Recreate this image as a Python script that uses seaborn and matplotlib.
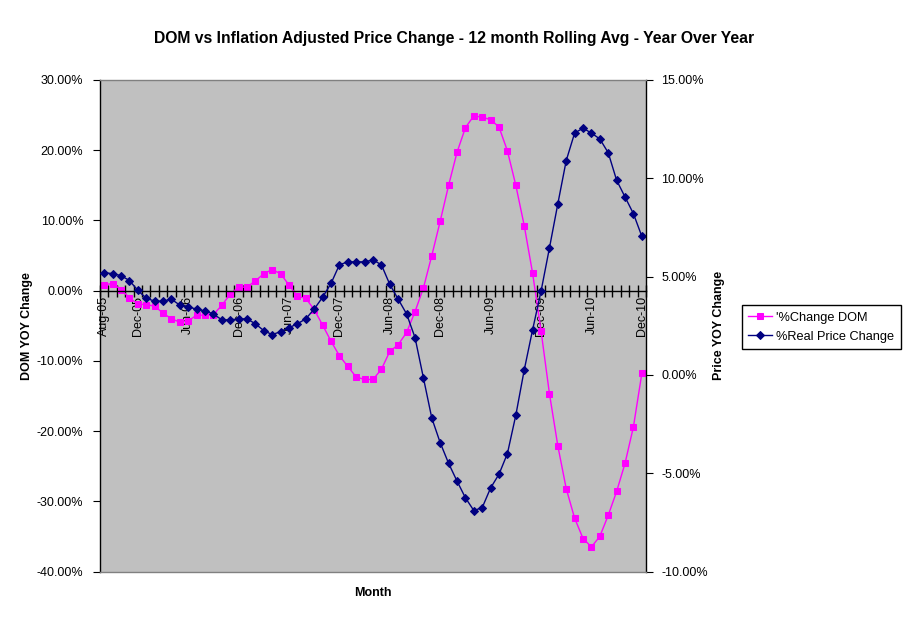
import matplotlib
matplotlib.use('Agg')
import matplotlib.pyplot as plt
import matplotlib.ticker as mticker
import seaborn as sns
import pandas as pd

# month categories, Aug-05 .. Dec-10
months = list(pd.date_range('2005-08-01', periods=65, freq='MS').strftime('%b-%y'))
label_months = ['Aug-05', 'Dec-05', 'Jun-06', 'Dec-06', 'Jun-07', 'Dec-07',
                'Jun-08', 'Dec-08', 'Jun-09', 'Dec-09', 'Jun-10', 'Dec-10']

# '%Change DOM (left axis, percent)
dom_change = [0.85, 1.0, 0.15, -1.0, -1.9, -2.0, -2.2, -3.2, -4.0, -4.5,
              -4.3, -3.5, -3.5, -3.4, -2.1, -0.5, 0.5, 0.5, 1.4, 2.4,
              3.0, 2.4, 0.8, -0.8, -1.1, -2.7, -4.9, -7.2, -9.27, -10.8,
              -12.3, -12.65, -12.65, -11.2, -8.65, -7.7, -5.95, -3.0, 0.38, 5.0,
              9.9, 15.0, 19.7, 23.2, 24.9, 24.7, 24.35, 23.3, 19.9, 15.0,
              9.27, 2.47, -5.7, -14.65, -22.1, -28.2, -32.4, -35.3, -36.5, -35.0,
              -32.0, -28.6, -24.6, -19.4, -11.8]

# %Real Price Change (right axis, percent)
price_change = [5.2, 5.15, 5.05, 4.8, 4.3, 3.9, 3.75, 3.75, 3.85, 3.55,
                3.45, 3.35, 3.25, 3.1, 2.8, 2.8, 2.85, 2.85, 2.6, 2.25,
                2.05, 2.2, 2.4, 2.6, 2.85, 3.35, 3.95, 4.65, 5.6, 5.75,
                5.75, 5.75, 5.85, 5.6, 4.6, 3.85, 3.1, 1.9, -0.15, -2.2,
                -3.45, -4.5, -5.4, -6.25, -6.9, -6.75, -5.75, -5.05, -4.0, -2.05,
                0.25, 2.3, 4.25, 6.45, 8.7, 10.9, 12.3, 12.55, 12.3, 12.0,
                11.3, 9.9, 9.05, 8.2, 7.05]

plt.rcParams['font.family'] = ['Liberation Sans', 'DejaVu Sans']

df = pd.DataFrame({'idx': range(len(months)), 'month': months,
                   'dom': dom_change, 'price': price_change})

fig = plt.figure(figsize=(9.09, 6.21), dpi=100)
ax = fig.add_axes([0.110, 0.0797, 0.6007, 0.7915])
ax.set_facecolor('#C0C0C0')
ax2 = ax.twinx()

sns.lineplot(data=df, x='idx', y='dom', ax=ax, color='#FF00FF', linewidth=1,
             marker='s', markersize=4.5, markeredgecolor='#FF00FF',
             label="'%Change DOM", legend=False)
sns.lineplot(data=df, x='idx', y='price', ax=ax2, color='#000080', linewidth=1,
             marker='D', markersize=4.5, markeredgecolor='#000080',
             label='%Real Price Change', legend=False)

ax.set_xlim(-0.5, len(months) - 0.5)
ax.set_ylim(-40, 30)
ax2.set_ylim(-10, 15)
ax.set_yticks(range(-40, 31, 10))
ax2.set_yticks(range(-10, 16, 5))
ax.yaxis.set_major_formatter(mticker.FuncFormatter(lambda v, p: '%.2f%%' % v))
ax2.yaxis.set_major_formatter(mticker.FuncFormatter(lambda v, p: '%.2f%%' % v))

# category axis crossing at 0 on the DOM axis
ax.spines['bottom'].set_position(('data', 0))
ax.spines['bottom'].set_color('black')
ax.spines['top'].set_visible(False)
ax.spines['right'].set_visible(False)
ax.spines['left'].set_color('black')
ax2.spines['left'].set_visible(False)
ax2.spines['right'].set_color('black')
ax2.spines['top'].set_color('#808080')
ax2.spines['bottom'].set_color('#808080')
for s in ['left', 'right', 'top', 'bottom']:
    ax.spines[s].set_linewidth(1)
    ax2.spines[s].set_linewidth(1)

label_pos = [months.index(m) for m in label_months]
ax.set_xticks(label_pos)
ax.set_xticklabels(label_months, rotation=90, fontsize=9)
ax.set_xticks([i + 0.5 for i in range(-1, len(months))], minor=True)
ax.tick_params(axis='x', which='major', length=0, pad=4)
ax.tick_params(axis='x', which='minor', direction='inout', length=8, width=1)
ax.tick_params(axis='y', direction='out', length=5, labelsize=9, pad=7)
ax2.tick_params(axis='y', direction='out', length=5, labelsize=9, pad=6)

ax.set_xlabel('')
ax.set_ylabel('DOM YOY Change', fontsize=9, fontweight='bold', labelpad=3)
ax2.set_ylabel('Price YOY Change', fontsize=9, fontweight='bold', labelpad=4)
fig.text(0.410, 0.045, 'Month', ha='center', va='center', fontsize=9, fontweight='bold')
fig.suptitle('DOM vs Inflation Adjusted Price Change - 12 month Rolling Avg - Year Over Year',
             x=0.5, y=0.950, fontsize=11.3, fontweight='bold')

h1, l1 = ax.get_legend_handles_labels()
h2, l2 = ax2.get_legend_handles_labels()
leg = fig.legend(h1 + h2, l1 + l2, loc='center left', bbox_to_anchor=(0.816, 0.473),
                 fontsize=9.2, frameon=True, fancybox=False, framealpha=1,
                 edgecolor='black', handlelength=1.9, handletextpad=0.3,
                 borderpad=0.5, borderaxespad=0, labelspacing=0.55)
leg.get_frame().set_linewidth(1)

fig.savefig('out.png', dpi=100)
plt.close(fig)
